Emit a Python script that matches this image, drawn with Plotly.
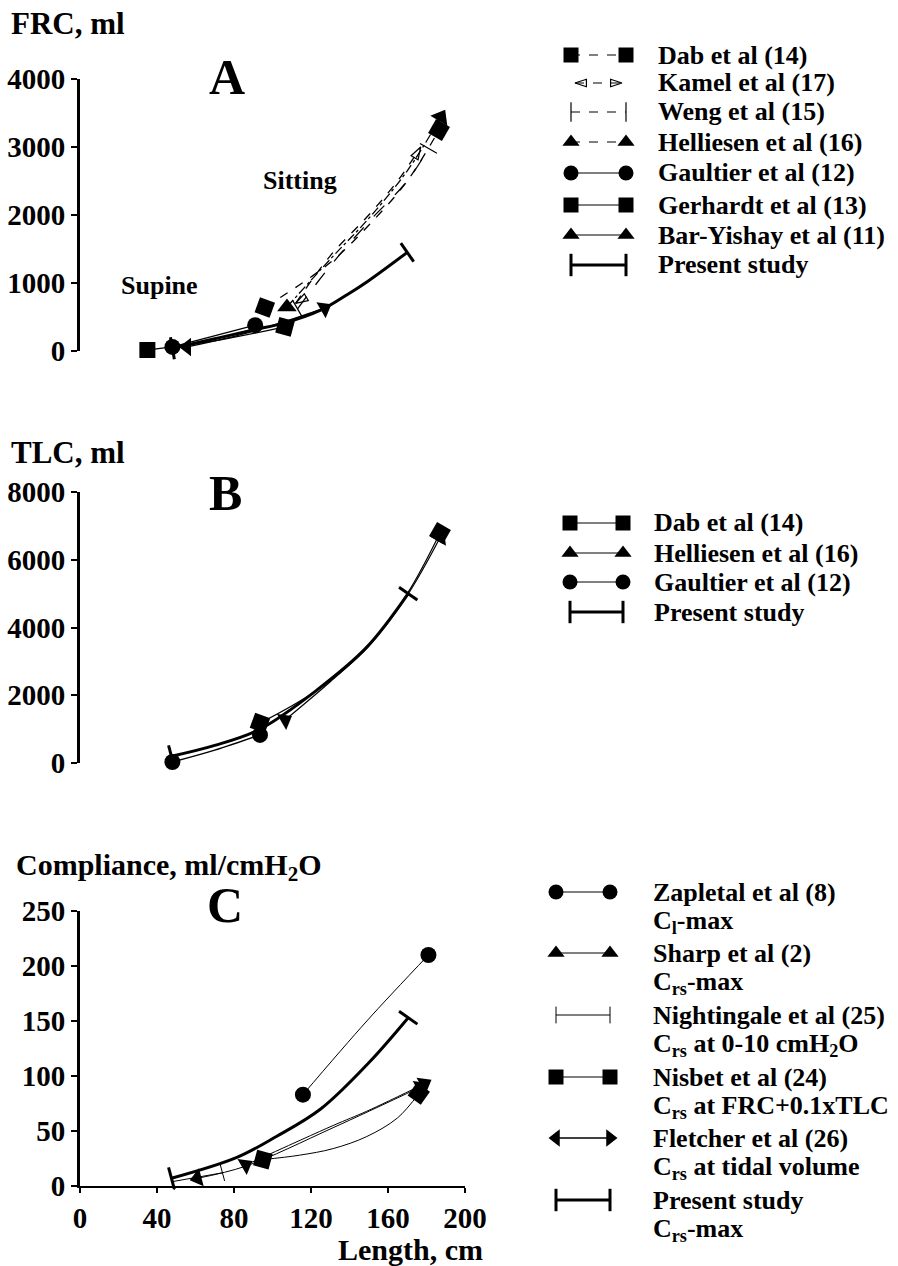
import plotly.graph_objects as go

W, H = 898, 1266
FONT = "Liberation Serif"

# ---------------- Panel A: FRC (ml) against body length (cm) ----------------
frc_dab_len = [96, 130, 150, 170, 186.5]
frc_dab_val = [640, 1300, 1850, 2500, 3250]
frc_kamel_len = [112, 130, 150, 165, 177]
frc_kamel_val = [700, 1400, 2000, 2500, 3000]
frc_weng_len = [113, 130, 150, 170, 181]
frc_weng_val = [620, 1250, 1900, 2500, 2980]
frc_helliesen_len = [107.5, 130, 150, 170, 187.5]
frc_helliesen_val = [647, 1350, 1950, 2650, 3440]
frc_gaultier_len = [48, 91]
frc_gaultier_val = [60, 380]
frc_gerhardt_len = [35, 70, 106.5]
frc_gerhardt_val = [15, 150, 355]
frc_baryishay_len = [55.6, 90, 127]
frc_baryishay_val = [60, 290, 630]
frc_present_len = [48, 70, 90, 106, 125, 140, 149, 170]
frc_present_val = [40, 180, 310, 410, 600, 850, 1015, 1450]
frc_ticks = [0, 1000, 2000, 3000, 4000]

# ---------------- Panel B: TLC (ml) ----------------
tlc_dab_len = [93.5, 123, 149, 170, 187]
tlc_dab_val = [1180, 2150, 3420, 5000, 6790]
tlc_helliesen_len = [106.5, 130, 150, 170, 187]
tlc_helliesen_val = [1270, 2400, 3450, 4950, 6650]
tlc_gaultier_len = [48, 70, 93.5]
tlc_gaultier_val = [30, 380, 830]
tlc_present_len = [47.5, 70, 93.5, 123, 149, 170.5]
tlc_present_val = [200, 520, 1000, 2150, 3420, 5000]
tlc_ticks = [0, 2000, 4000, 6000, 8000]

# ---------------- Panel C: compliance (ml/cmH2O) ----------------
c_zapletal_len = [115.8, 149, 181]
c_zapletal_val = [83, 150, 210]
c_sharp_len = [86, 131.5, 149, 179]
c_sharp_val = [19, 55, 68, 93]
c_nightingale_len = [48, 74]
c_nightingale_val = [4, 12]
c_nisbet_len = [95, 114, 131.5, 149, 165, 176]
c_nisbet_val = [24, 28, 34, 45, 62, 84]
c_fletcher_len = [61, 86, 131.5, 177]
c_fletcher_val = [7, 18, 53, 90]
c_present_len = [47.5, 81.5, 102, 125, 150, 170.5]
c_present_val = [7, 26, 45, 70, 112, 153]
c_yticks = [0, 50, 100, 150, 200, 250]
length_ticks = [0, 40, 80, 120, 160, 200]


def px(x):
    return x / W


def py(y):
    return 1 - y / H


fig = go.Figure()


def curve(xs, ys, ax, syms, size, angles=(0, 0), dash="solid", width=1.0, mline=0.0):
    """Smooth line through the points plus a marker at each of its two ends."""
    xa, ya = "x" + ax, "y" + ax
    fig.add_trace(go.Scatter(
        x=xs, y=ys, xaxis=xa, yaxis=ya, mode="lines",
        line=dict(color="black", width=width, dash=dash, shape="spline", smoothing=1.0),
        cliponaxis=False, showlegend=False, hoverinfo="skip",
    ))
    fig.add_trace(go.Scatter(
        x=[xs[0], xs[-1]], y=[ys[0], ys[-1]], xaxis=xa, yaxis=ya, mode="markers",
        marker=dict(symbol=list(syms), size=size, angle=list(angles), color="black",
                    opacity=1, line=dict(color="black", width=mline)),
        cliponaxis=False, showlegend=False, hoverinfo="skip",
    ))


# Panel A
curve(frc_dab_len, frc_dab_val, "", ("square", "square"), 16, angles=(20, 30),
      dash="dash", width=1.3)
curve(frc_kamel_len, frc_kamel_val, "", ("arrow-open", "arrow-open"), 13,
      angles=(240, 30), dash="dash", width=1.3, mline=1.2)
curve(frc_weng_len, frc_weng_val, "", ("line-ns", "line-ns"), 14,
      angles=(150, 120), dash="longdash", width=1.3, mline=1.2)
curve(frc_helliesen_len, frc_helliesen_val, "", ("triangle-up", "triangle-up"), 17,
      angles=(0, 30), dash="dashdot", width=1.3)
curve(frc_gaultier_len, frc_gaultier_val, "", ("circle", "circle"), 16, width=1.3)
curve(frc_gerhardt_len, frc_gerhardt_val, "", ("square", "square"), 16, angles=(0, 15), width=1.3)
curve(frc_baryishay_len, frc_baryishay_val, "", ("triangle-up", "triangle-up"), 16,
      angles=(-90, 60), width=1.3)
curve(frc_present_len, frc_present_val, "", ("line-ns", "line-ns"), 16,
      angles=(170, 145), width=3, mline=3)

# Panel B
curve(tlc_dab_len, tlc_dab_val, "2", ("square", "square"), 16, angles=(20, 30), width=1.2)
curve(tlc_helliesen_len, tlc_helliesen_val, "2", ("triangle-up", "triangle-up"), 16,
      angles=(60, 30), width=1.2)
curve(tlc_gaultier_len, tlc_gaultier_val, "2", ("circle", "circle"), 16, width=1.5)
curve(tlc_present_len, tlc_present_val, "2", ("line-ns", "line-ns"), 16,
      angles=(165, 125), width=3, mline=3)

# Panel C
curve(c_zapletal_len, c_zapletal_val, "3", ("circle", "circle"), 16)
curve(c_sharp_len, c_sharp_val, "3", ("triangle-up", "triangle-up"), 16, angles=(60, 60))
curve(c_nightingale_len, c_nightingale_val, "3", ("line-ns", "line-ns"), 12,
      angles=(165, 165), mline=1)
curve(c_nisbet_len, c_nisbet_val, "3", ("square", "square"), 16, angles=(15, 35))
curve(c_fletcher_len, c_fletcher_val, "3", ("triangle-up", "triangle-up"), 16, angles=(255, 60))
curve(c_present_len, c_present_val, "3", ("line-ns", "line-ns"), 16,
      angles=(165, 125), width=3, mline=3)


# ---------------- Legend keys, drawn on a full-page pixel axis ----------------
def key(x0, x1, y, syms, size, dash="solid", width=1.2, mline=0.0, angles=(0, 0)):
    fig.add_trace(go.Scatter(
        x=[x0, x1], y=[y, y], xaxis="x4", yaxis="y4", mode="lines+markers",
        line=dict(color="black", width=width, dash=dash),
        marker=dict(symbol=list(syms), size=size, color="black", angle=list(angles),
                    line=dict(color="black", width=mline)),
        cliponaxis=False, showlegend=False, hoverinfo="skip",
    ))


legend_a = [
    ("Dab et al (14)", ("square", "square"), 15, "dash", 1.2, 0, (0, 0)),
    ("Kamel et al (17)", ("arrow-open", "arrow-open"), 12, "dash", 1.2, 1.2, (-90, 90)),
    ("Weng et al (15)", ("line-ns", "line-ns"), 14, "dash", 1.2, 1.2, (0, 0)),
    ("Helliesen et al (16)", ("triangle-up", "triangle-up"), 15, "dash", 1.2, 0, (0, 0)),
    ("Gaultier et al (12)", ("circle", "circle"), 15, "solid", 1.2, 0, (0, 0)),
    ("Gerhardt et al (13)", ("square", "square"), 15, "solid", 1.2, 0, (0, 0)),
    ("Bar-Yishay et al (11)", ("triangle-up", "triangle-up"), 15, "solid", 1.2, 0, (0, 0)),
    ("Present study", ("line-ns", "line-ns"), 16, "solid", 3, 3, (0, 0)),
]
legend_a_rows = [55, 83, 112, 142, 173, 205, 235, 265]

legend_b = [
    ("Dab et al (14)", ("square", "square"), 15, "solid", 1, 0, (0, 0)),
    ("Helliesen et al (16)", ("triangle-up", "triangle-up"), 15, "solid", 1, 0, (0, 0)),
    ("Gaultier et al (12)", ("circle", "circle"), 15, "solid", 1, 0, (0, 0)),
    ("Present study", ("line-ns", "line-ns"), 16, "solid", 3, 3, (0, 0)),
]
legend_b_rows = [523, 553, 582, 612]

legend_c = [
    ("Zapletal et al (8)", "C<sub>l</sub>-max",
     ("circle", "circle"), 15, "solid", 1, 0, (0, 0)),
    ("Sharp et al (2)", "C<sub>rs</sub>-max",
     ("triangle-up", "triangle-up"), 15, "solid", 1, 0, (0, 0)),
    ("Nightingale et al (25)", "C<sub>rs</sub> at 0-10 cmH<sub>2</sub>O",
     ("line-ns", "line-ns"), 12, "solid", 1, 1, (0, 0)),
    ("Nisbet et al (24)", "C<sub>rs</sub> at FRC+0.1xTLC",
     ("square", "square"), 15, "solid", 1, 0, (0, 0)),
    ("Fletcher et al (26)", "C<sub>rs</sub> at tidal volume",
     ("triangle-left", "triangle-right"), 15, "solid", 1.5, 0, (0, 0)),
    ("Present study", "C<sub>rs</sub>-max",
     ("line-ns", "line-ns"), 16, "solid", 3, 3, (0, 0)),
]
legend_c_rows = [892, 953, 1015, 1077, 1138, 1200]

annotations = []


def text(x, y, s, size=26, anchor="left"):
    annotations.append(dict(
        x=px(x), y=py(y), xref="paper", yref="paper", text=s, showarrow=False,
        xanchor=anchor, yanchor="middle", borderpad=0,
        font=dict(family=FONT, size=size, color="black", weight="bold"),
    ))


for (label, syms, size, dash, width, mline, ang), row in zip(legend_a, legend_a_rows):
    x0, x1 = (571, 626) if syms[0] != "arrow-open" else (575, 622)
    key(x0, x1, row, syms, size, dash, width, mline, ang)
    text(657, row, label)

for (label, syms, size, dash, width, mline, ang), row in zip(legend_b, legend_b_rows):
    key(570, 623, row, syms, size, dash, width, mline, ang)
    text(653, row, label)

for (label, sub, syms, size, dash, width, mline, ang), row in zip(legend_c, legend_c_rows):
    key(556, 610, row, syms, size, dash, width, mline, ang)
    text(652, row, label)
    text(652, row + 30, sub)

# Titles and panel letters
text(10, 24, "FRC, ml", size=31)
text(227, 77, "A", size=50, anchor="center")
text(262, 180, "Sitting")
text(120, 286, "Supine")
text(10, 452, "TLC, ml", size=31)
text(225, 493, "B", size=50, anchor="center")
text(15, 867, "Compliance, ml/cmH<sub>2</sub>O", size=30)
text(225, 905, "C", size=50, anchor="center")
text(484, 1249, "Length, cm", size=30, anchor="right")

tickfont = dict(family=FONT, size=29, color="black", weight="bold")
xdom = [px(80), px(465)]


def yaxis(lo, hi, rng, ticks, anchor):
    return dict(domain=[py(lo), py(hi)], range=rng, tickvals=ticks, showgrid=False,
                zeroline=False, showline=True, linecolor="black", linewidth=3,
                ticks="outside", ticklen=6, tickwidth=1.5, tickcolor="black",
                tickfont=tickfont, anchor=anchor, fixedrange=True, automargin=False)


fig.update_layout(
    template="none",
    width=W, height=H,
    margin=dict(l=0, r=0, t=0, b=0, pad=0, autoexpand=False),
    paper_bgcolor="white", plot_bgcolor="rgba(0,0,0,0)",
    showlegend=False,
    xaxis=dict(domain=xdom, range=[0, 200], visible=False, anchor="y", automargin=False),
    yaxis=yaxis(351, 79, [0, 4000], frc_ticks, "x"),
    xaxis2=dict(domain=xdom, range=[0, 200], visible=False, anchor="y2", automargin=False),
    yaxis2=yaxis(763, 492, [0, 8000], tlc_ticks, "x2"),
    xaxis3=dict(domain=xdom, range=[0, 200], tickvals=length_ticks, showgrid=False,
                zeroline=False, showline=True, linecolor="black", linewidth=1.5,
                ticks="outside", ticklen=5, tickwidth=1.5, tickcolor="black",
                tickfont=tickfont, anchor="y3", automargin=False),
    yaxis3=yaxis(1186, 911, [0, 250], c_yticks, "x3"),
    xaxis4=dict(domain=[0, 1], range=[0, W], visible=False, anchor="y4", automargin=False),
    yaxis4=dict(domain=[0, 1], range=[H, 0], visible=False, anchor="x4", automargin=False),
    annotations=annotations,
)

fig.write_html("out.html")
